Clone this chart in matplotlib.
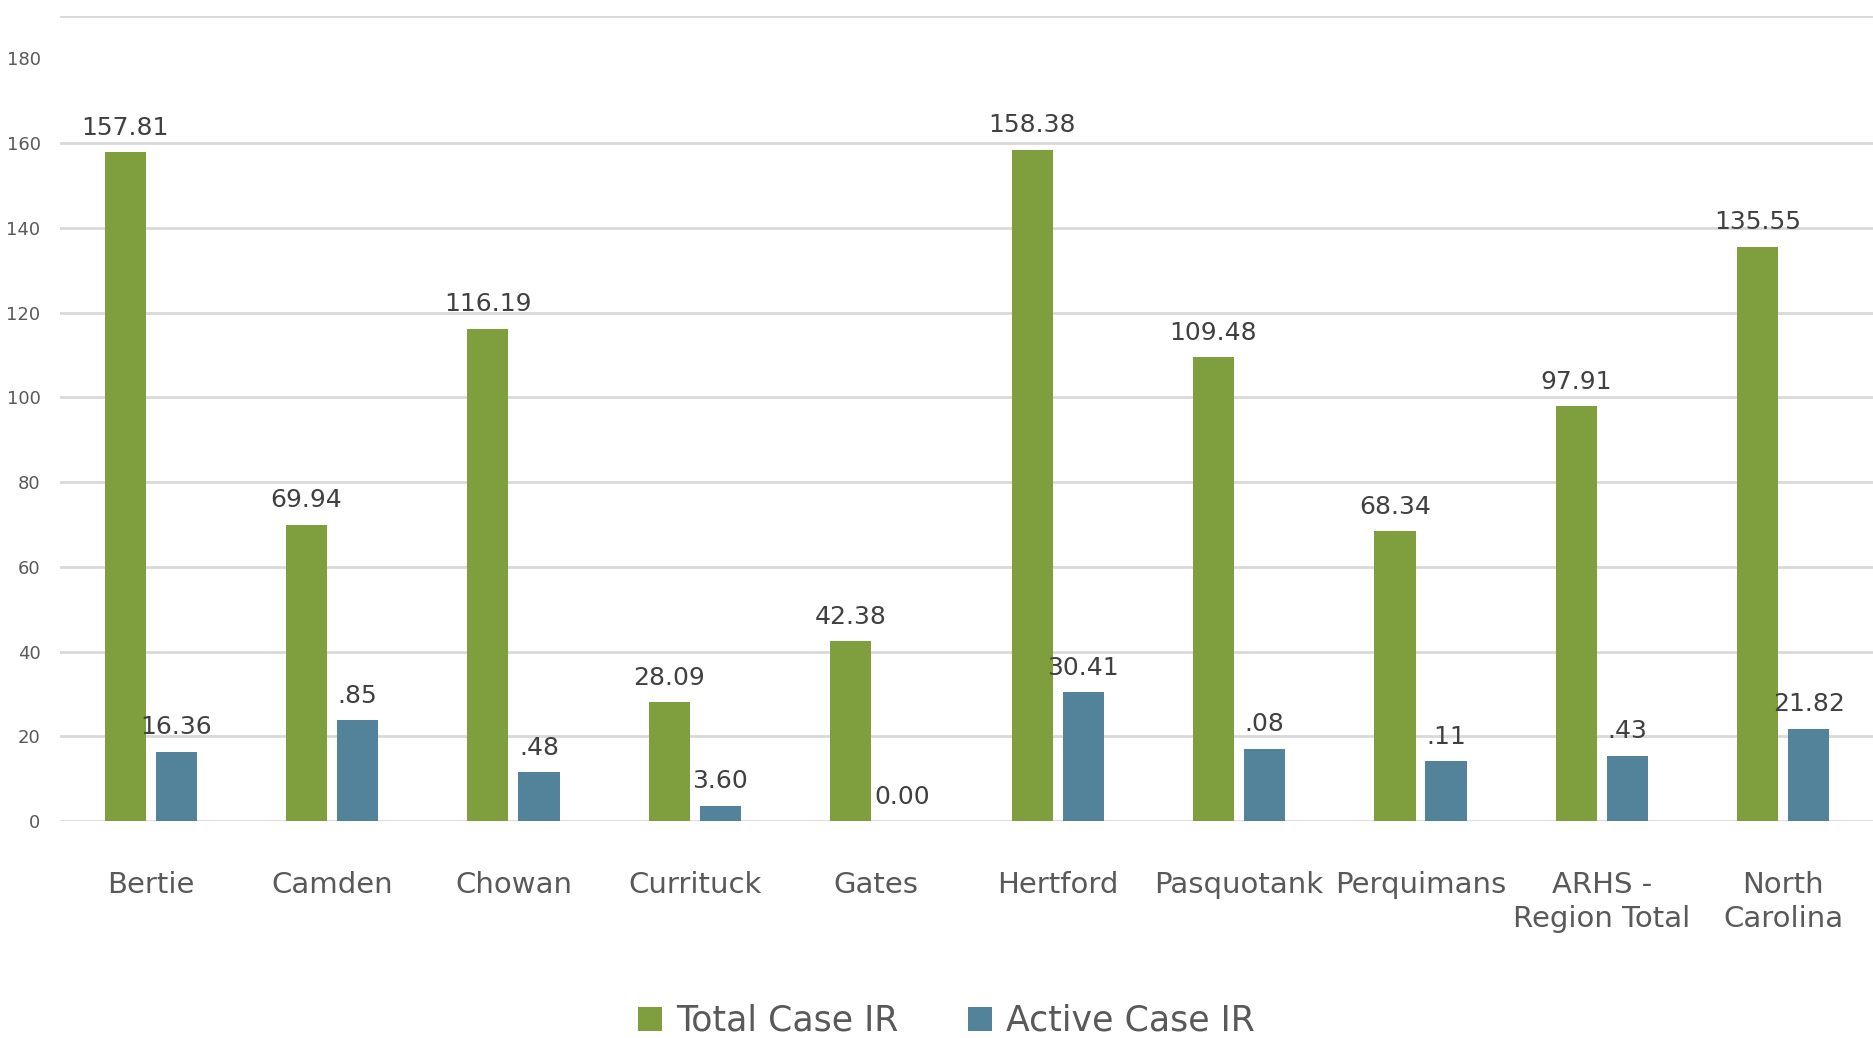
import matplotlib.pyplot as plt
import numpy as np

plt.rcParams["font.family"] = ["DejaVu Sans"]

# Data
regions = ["Bertie", "Camden", "Chowan", "Currituck", "Gates", "Hertford",
           "Pasquotank", "Perquimans", "ARHS -\nRegion Total", "North\nCarolina"]
total_ir = [157.81, 69.94, 116.19, 28.09, 42.38, 158.38, 109.48, 68.34, 97.91, 135.55]
active_ir = [16.36, 23.85, 11.48, 3.60, 0.00, 30.41, 17.08, 14.11, 15.43, 21.82]
# labels as printed on the chart (some are partly hidden in the original)
total_labels = ["157.81", "69.94", "116.19", "28.09", "42.38", "158.38",
                "109.48", "68.34", "97.91", "135.55"]
active_labels = ["16.36", ".85", ".48", "3.60", "0.00", "30.41",
                 ".08", ".11", ".43", "21.82"]
y_ticks = [0, 20, 40, 60, 80, 100, 120, 140, 160, 180]

green = "#7F9F3F"
blue = "#52839B"
grid_col = "#D9D9D9"

fig = plt.figure(figsize=(18.74, 10.38), dpi=100)
ax = fig.add_axes([0.032, 0.209, 0.968, 0.7756])

x = np.arange(len(regions))
w = 0.227
off = 0.141

b1 = ax.bar(x - off, total_ir, w, color=green, label="Total Case IR", zorder=3)
b2 = ax.bar(x + off, active_ir, w, color=blue, label="Active Case IR", zorder=3)

for bars, labels in [(b1, total_labels), (b2, active_labels)]:
    for rect, lab in zip(bars, labels):
        ax.annotate(lab, (rect.get_x() + rect.get_width() / 2, rect.get_height()),
                    xytext=(0, 9), textcoords="offset points", ha="center",
                    va="bottom", fontsize=18, color="#404040")

ax.set_xlim(-0.5, len(regions) - 0.5)
ax.set_ylim(0, 190)
ax.set_yticks(y_ticks)
ax.grid(axis="y", color=grid_col, linewidth=2, zorder=0)
# the original has no line at 180, only the frame line at the top
ax.yaxis.get_gridlines()[-1].set_visible(False)
ax.axhline(190, color=grid_col, linewidth=2, zorder=0)
for s in ax.spines.values():
    s.set_visible(False)

ax.set_xticks(x)
ax.set_xticklabels(regions, fontsize=21, color="#595959", linespacing=1.25, va="top")
ax.tick_params(axis="x", length=0, pad=36)
ax.tick_params(axis="y", length=0, pad=14, labelsize=13, labelcolor="#595959")

fig.legend(handles=[b1, b2], loc="lower center", bbox_to_anchor=(0.505, -0.03),
           ncol=2, frameon=False, fontsize=25, labelcolor="#595959",
           handlelength=0.7, handleheight=0.7, handletextpad=0.4, columnspacing=2.0)

fig.savefig("out.png", dpi=100)
